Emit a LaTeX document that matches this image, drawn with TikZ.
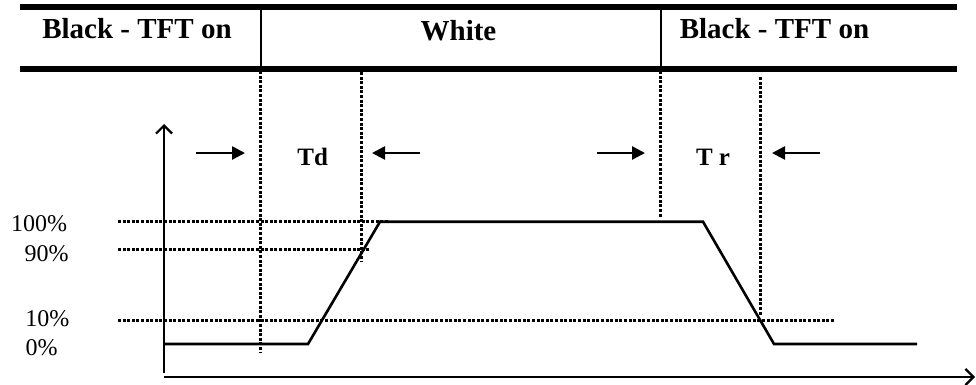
\documentclass[tikz,border=0pt]{standalone}
\usepackage{fontspec}
\setmainfont{Liberation Serif}
\usetikzlibrary{arrows.meta}
\begin{document}
\begin{tikzpicture}[x=1pt,y=-1pt,
  thickbar/.style={line width=6pt},
  sep/.style={line width=2pt},
  dots/.style={line width=3pt,dash pattern=on 3pt off 1.6pt},
  axis/.style={line width=2.4pt,-{Straight Barb[length=8pt,width=16pt,line width=2.2pt]}},
  sig/.style={line width=2.6pt,line join=miter},
  marker/.style={line width=2.6pt,-{Triangle[length=13pt,width=13pt]}},
  head/.style={font=\fontsize{29}{29}\selectfont\bfseries,anchor=base,inner sep=0pt},
  tlab/.style={font=\fontsize{25}{25}\selectfont\bfseries,anchor=base,inner sep=0pt},
  plab/.style={font=\fontsize{24}{24}\selectfont,anchor=base,inner sep=0pt}]
\useasboundingbox (0,0) rectangle (976,385);
% header
\draw[thickbar] (20,7) -- (957,7);
\draw[thickbar] (20,69.5) -- (957,69.5);
\draw[sep] (260.5,7) -- (260.5,69.5);
\draw[sep] (660.5,7) -- (660.5,69.5);
\node[head] (b1) at (137,38.3) {Black - TFT on};
\node[head] (w) at (458.5,40.7) {White};
\node[head] (b2) at (774.5,38.3) {Black - TFT on};
% dotted verticals
\draw[dots] (260.5,71) -- (260.5,353);
\draw[dots] (361,72) -- (361,262);
\draw[dots] (660.5,71) -- (660.5,217);
\draw[dots] (760,77) -- (760,316);
% dotted horizontals
\draw[dots] (118,221.7) -- (388,221.7);
\draw[dots] (118,249) -- (369,249);
\draw[dots] (118,320) -- (835,320);
% axes
\coordinate (o) at (164,377);
\draw[axis] (164,373) -- (164,124);
\draw[axis] (o) -- (975,377);
% signal
\draw[sig] (164,344) -- (308,344) -- (380,221.7) -- (703,221.7) -- (774,344) -- (917,344);
% percent labels
\node[plab] (p100) at (39.2,231.7) {100\%};
\node[plab] (p90) at (46.7,261) {90\%};
\node[plab] (p10) at (47.3,326) {10\%};
\node[plab] (p0) at (41.7,355) {0\%};
% time labels and markers
\node[tlab] (td) at (312.7,165) {Td};
\node[tlab] (tr) at (713,165) {T r};
\coordinate (a1s) at (196,153); \coordinate (a1e) at (245,153);
\coordinate (a2s) at (420,153); \coordinate (a2e) at (372,153);
\coordinate (a3s) at (597,153); \coordinate (a3e) at (645,153);
\coordinate (a4s) at (820,153); \coordinate (a4e) at (772,153);
\draw[marker] (a1s) -- (a1e);
\draw[marker] (a2s) -- (a2e);
\draw[marker] (a3s) -- (a3e);
\draw[marker] (a4s) -- (a4e);
\end{tikzpicture}
\end{document}
